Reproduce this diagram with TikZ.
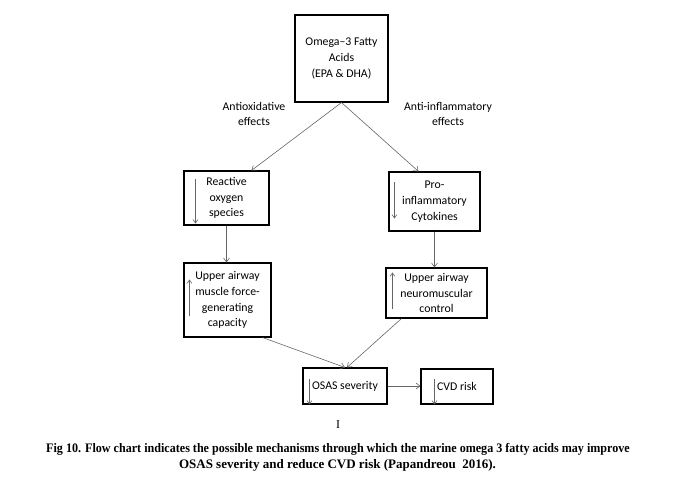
\documentclass[tikz,border=0pt]{standalone}
\usepackage{fontspec}
\setmainfont{Carlito}
\newfontfamily\capfont{Liberation Serif}
\usetikzlibrary{positioning,calc,arrows.meta}
\tikzset{
  flowbox/.style={draw=black, line width=1.1pt, align=center, inner sep=2pt,
    font=\fontsize{11.8}{15.8}\selectfont},
  effect/.style={align=center, font=\fontsize{11.8}{14.5}\selectfont},
  link/.style={draw=black!60, line width=0.6pt, -{Straight Barb[length=4pt,width=6pt]}},
  trend/.style={draw=black!60, line width=0.6pt, -{Straight Barb[length=3.5pt,width=5pt]}},
  captext/.style={font=\capfont\bfseries\fontsize{13}{15}\selectfont}
}

\begin{document}
\begin{tikzpicture}[x=1pt,y=-1pt]
  \useasboundingbox (0,0) rectangle (675,484);

  % boxes
  \node[flowbox, minimum width=93pt, minimum height=87pt] (omega) at (341.5,58.5) {Omega--3 Fatty\\Acids\\(EPA \& DHA)};
  \node[flowbox, minimum width=85pt, minimum height=54pt] (ros) at (226.5,198) {Reactive\\oxygen\\species};
  \node[flowbox, minimum width=91pt, minimum height=59pt] (cyto) at (434.5,201.5) {Pro-\\inflammatory\\Cytokines};
  \node[flowbox, minimum width=87pt, minimum height=74pt] (muscle) at (227.5,300) {Upper airway\\muscle force-\\generating\\capacity};
  \node[flowbox, minimum width=101pt, minimum height=50pt] (neuro) at (436.5,293) {Upper airway\\neuromuscular\\control};
  \node[flowbox, minimum width=84pt, minimum height=36pt] (osas) at (345,386) {OSAS severity};
  \node[flowbox, minimum width=72pt, minimum height=35pt] (cvd) at (457,386.5) {CVD risk};

  % effect labels
  \node[effect] (anti-ox) at (254,114) {Antioxidative\\effects};
  \node[effect] (anti-inf) at (448,114) {Anti-inflammatory\\effects};

  % connectors
  \draw[link] (omega.south) -- ([xshift=25pt]ros.north);
  \draw[link] (omega.south) -- ([xshift=-16pt]cyto.north);
  \draw[link] (ros.south) -- (ros.south |- muscle.north);
  \draw[link] (cyto.south) -- (cyto.south |- neuro.north);
  \draw[link] ([xshift=-9pt]muscle.south east) -- (osas.north);
  \draw[link] ([xshift=16pt]neuro.south west) -- ([xshift=2pt]osas.north);
  \draw[link] (osas.east) -- (osas.east -| cvd.west);

  % up/down marks inside boxes
  \draw[trend] ($(ros.north west)+(12,9)$) -- ($(ros.south west)+(12,-2)$);
  \draw[trend] ($(cyto.north west)+(6,11)$) -- ($(cyto.south west)+(6,-13)$);
  \draw[trend] ($(muscle.south west)+(6,-22)$) -- ($(muscle.north west)+(6,17)$);
  \draw[trend] ($(neuro.south west)+(7,-10)$) -- ($(neuro.north west)+(7,5)$);
  \draw[trend] ($(osas.north west)+(7,12)$) -- ($(osas.south west)+(7,0)$);
  \draw[trend] ($(cvd.north west)+(14,11)$) -- ($(cvd.south west)+(14,0)$);

  % caption
  \node[font=\capfont\fontsize{12}{14}\selectfont] (mark) at (338,425) {I};
  \node[captext] (cap-a) at (338,449.5)
    {\scalebox{0.93}[1]{Fig 10. Flow chart indicates the possible mechanisms through which the marine omega 3 fatty acids may improve}};
  \node[captext] (cap-b) at (337.5,465)
    {OSAS severity and reduce CVD risk (Papandreou~~2016).};
\end{tikzpicture}
\end{document}
